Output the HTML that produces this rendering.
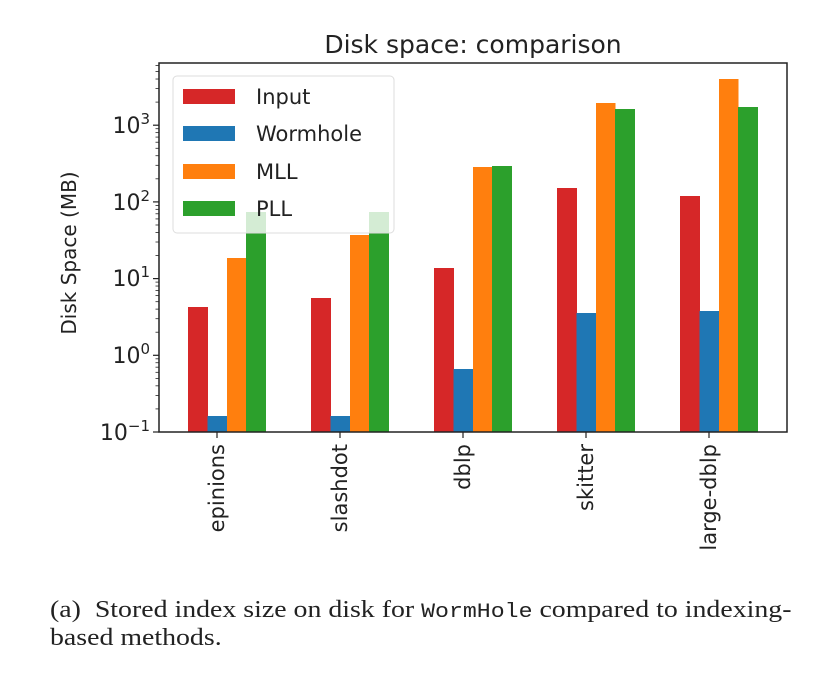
<!DOCTYPE html>
<html><head><meta charset="utf-8"><style>
html,body{margin:0;padding:0;background:#fff;width:828px;height:677px;overflow:hidden;position:relative}
svg{display:block}
text{font-family:"DejaVu Sans","Liberation Sans",sans-serif;fill:#222}
.cap{position:absolute;left:50px;font-family:"Liberation Serif",serif;font-size:24px;color:#222;white-space:nowrap;line-height:28px;transform:scaleX(1.16);transform-origin:0 0}
.cap code{font-family:"Liberation Mono",monospace;font-size:20px}
</style></head><body>
<svg id="s" width="828" height="677" viewBox="0 0 828 677">
<text x="473" y="53" font-size="25" text-anchor="middle">Disk space: comparison</text>
<g id="bars">
<rect x="188" y="307" width="20" height="125" fill="#d62728"/>
<rect x="207.5" y="416" width="19.5" height="16" fill="#1f77b4"/>
<rect x="227" y="258" width="19.5" height="174" fill="#ff7f0e"/>
<rect x="246" y="212" width="20" height="220" fill="#2ca02c"/>
<rect x="311" y="298" width="20" height="134" fill="#d62728"/>
<rect x="330.5" y="416" width="19.5" height="16" fill="#1f77b4"/>
<rect x="350" y="235" width="19.5" height="197" fill="#ff7f0e"/>
<rect x="369" y="212" width="20" height="220" fill="#2ca02c"/>
<rect x="434" y="268" width="20" height="164" fill="#d62728"/>
<rect x="453.5" y="369" width="19.5" height="63" fill="#1f77b4"/>
<rect x="473" y="167" width="19.5" height="265" fill="#ff7f0e"/>
<rect x="492" y="166" width="20" height="266" fill="#2ca02c"/>
<rect x="557" y="188" width="20" height="244" fill="#d62728"/>
<rect x="576.5" y="313" width="19.5" height="119" fill="#1f77b4"/>
<rect x="596" y="103" width="19.5" height="329" fill="#ff7f0e"/>
<rect x="615" y="109" width="20" height="323" fill="#2ca02c"/>
<rect x="680" y="196" width="20" height="236" fill="#d62728"/>
<rect x="699.5" y="311" width="19.5" height="121" fill="#1f77b4"/>
<rect x="719" y="79" width="19.5" height="353" fill="#ff7f0e"/>
<rect x="738" y="107" width="20" height="325" fill="#2ca02c"/>
</g>
<g id="ticks" stroke="#222" stroke-width="1.2"></g>
<rect x="159" y="63" width="628" height="369" fill="none" stroke="#222" stroke-width="1.5"/>
<g font-size="22" text-anchor="end">
<text x="150" y="133">10<tspan dy="-9" font-size="15">3</tspan></text>
<text x="150" y="210">10<tspan dy="-9" font-size="15">2</tspan></text>
<text x="150" y="286">10<tspan dy="-9" font-size="15">1</tspan></text>
<text x="150" y="363">10<tspan dy="-9" font-size="15">0</tspan></text>
<text x="150" y="440">10<tspan dy="-9" font-size="15">−1</tspan></text>
</g>
<text transform="translate(76,253) rotate(-90)" font-size="20" text-anchor="middle">Disk Space (MB)</text>
<g font-size="21" text-anchor="end">
<text transform="translate(224,444) rotate(-90)">epinions</text>
<text transform="translate(347,444) rotate(-90)">slashdot</text>
<text transform="translate(470,444) rotate(-90)">dblp</text>
<text transform="translate(593,444) rotate(-90)">skitter</text>
<text transform="translate(716,444) rotate(-90)">large-dblp</text>
</g>
<g>
<rect x="173" y="76" width="221" height="157" rx="4" fill="rgba(255,255,255,0.8)" stroke="#ddd"/>
<rect x="183" y="89" width="52" height="15" fill="#d62728"/>
<rect x="183" y="126" width="52" height="15" fill="#1f77b4"/>
<rect x="183" y="164" width="52" height="15" fill="#ff7f0e"/>
<rect x="183" y="201" width="52" height="15" fill="#2ca02c"/>
<g font-size="21">
<text x="256" y="104">Input</text>
<text x="256" y="141">Wormhole</text>
<text x="256" y="179">MLL</text>
<text x="256" y="216">PLL</text>
</g>
</g>
</svg>
<div class="cap" style="top:596px">(a)&nbsp; Stored index size on disk for <code>WormHole</code> compared to indexing-</div>
<div class="cap" style="top:624px">based methods.</div>
<script>
var g=document.getElementById('ticks'),s='';
var D=76.7,base=432;
for(var d=0;d<5;d++){var y0=base-d*D;s+='<line x1="153" x2="159" y1="'+y0+'" y2="'+y0+'"/>';
for(var k=2;k<10;k++){var y=y0-Math.log10(k)*D;if(y>63)s+='<line x1="155.5" x2="159" y1="'+y+'" y2="'+y+'" stroke-width="0.8"/>';}}
[217,340,463,586,709].forEach(function(x){s+='<line x1="'+x+'" x2="'+x+'" y1="432" y2="438"/>';});
g.innerHTML=s;
</script>
</body></html>
